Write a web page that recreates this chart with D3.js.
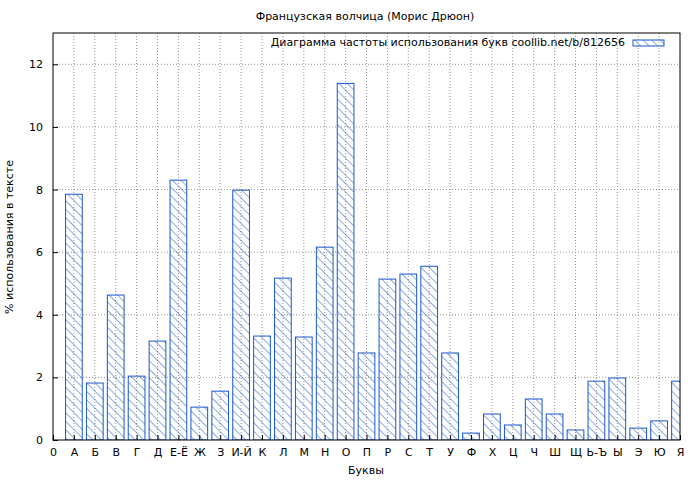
<!DOCTYPE html>
<html><head><meta charset="utf-8">
<script src="https://cdn.jsdelivr.net/npm/d3@7"></script>
<style>body{margin:0;background:#fff}text{font-family:"DejaVu Sans",sans-serif;font-size:11px}</style>
</head><body><div id="plot"></div>
<script>
const letters = ["0","А","Б","В","Г","Д","Е-Ё","Ж","З","И-Й","К","Л","М","Н","О","П","Р","С","Т","У","Ф","Х","Ц","Ч","Ш","Щ","Ь-Ъ","Ы","Э","Ю","Я"];
const values = [null,7.85,1.82,4.63,2.04,3.16,8.30,1.05,1.56,7.98,3.32,5.17,3.29,6.16,11.39,2.78,5.14,5.30,5.55,2.78,0.22,0.83,0.48,1.31,0.83,0.32,1.88,1.98,0.38,0.61,1.88];
const yTicks = [0,2,4,6,8,10,12];

const width = 700, height = 480;
const mLeft = 53, mRight = 680, mTop = 33, mBottom = 440;
const svg = d3.select("#plot").append("svg").attr("width", width).attr("height", height);

const x = d3.scaleLinear().domain([0, 30]).range([mLeft, mRight]);
const y = d3.scaleLinear().domain([0, 13]).range([mBottom, mTop]);
const color = "#1a56cc";

// hatch pattern
const pat = svg.append("defs").append("pattern").attr("id", "hatch")
    .attr("patternUnits", "userSpaceOnUse").attr("width", 6).attr("height", 6)
    .attr("patternTransform", "rotate(-45)");
pat.append("line").attr("x1", 0).attr("y1", 0).attr("x2", 0).attr("y2", 6)
    .attr("stroke", color).attr("stroke-width", 1);

// grid
svg.append("g").selectAll("line").data(yTicks.slice(1)).join("line")
    .attr("x1", mLeft).attr("x2", mRight).attr("y1", d => y(d)).attr("y2", d => y(d))
    .attr("stroke", "#999").attr("stroke-dasharray", "1,2");
svg.append("g").selectAll("line").data(d3.range(1, 30)).join("line")
    .attr("y1", mTop).attr("y2", mBottom).attr("x1", d => x(d)).attr("x2", d => x(d))
    .attr("stroke", "#999").attr("stroke-dasharray", "1,2");

// bars (clipped at the plot edge)
svg.append("clipPath").attr("id", "clip").append("rect")
    .attr("x", mLeft).attr("y", mTop).attr("width", mRight - mLeft).attr("height", mBottom - mTop);
const bw = (x(1) - x(0)) * 0.8;
svg.append("g").attr("clip-path", "url(#clip)").selectAll("rect")
    .data(values.map((v, i) => ({v, i})).filter(d => d.v != null)).join("rect")
    .attr("x", d => x(d.i) - bw / 2).attr("width", bw)
    .attr("y", d => y(d.v)).attr("height", d => y(0) - y(d.v))
    .attr("fill", "url(#hatch)").attr("stroke", color).attr("stroke-width", 1);

// frame
svg.append("rect").attr("x", mLeft).attr("y", mTop).attr("width", mRight - mLeft).attr("height", mBottom - mTop)
    .attr("fill", "none").attr("stroke", "#000");

// axes
svg.append("g").attr("transform", `translate(${mLeft},0)`)
    .call(d3.axisLeft(y).tickValues(yTicks).tickSize(-5).tickPadding(10))
    .call(g => g.select(".domain").remove());
svg.append("g").attr("transform", `translate(0,${mBottom})`)
    .call(d3.axisBottom(x).tickValues(d3.range(0, 31)).tickFormat(i => letters[i]).tickSize(-5).tickPadding(8))
    .call(g => g.select(".domain").remove());
svg.selectAll(".tick text").attr("fill", "#000").style("font-size", "11px");

// titles
svg.append("text").attr("x", 365).attr("y", 20).attr("text-anchor", "middle").text("Французская волчица (Морис Дрюон)");
svg.append("text").attr("x", 366).attr("y", 474).attr("text-anchor", "middle").text("Буквы");
svg.append("text").attr("transform", "translate(13,237) rotate(-90)").attr("text-anchor", "middle").text("% использования в тексте");

// legend
svg.append("text").attr("x", 625).attr("y", 46).attr("text-anchor", "end").text("Диаграмма частоты использования букв coollib.net/b/812656");
svg.append("rect").attr("x", 633).attr("y", 40).attr("width", 31).attr("height", 6)
    .attr("fill", "url(#hatch)").attr("stroke", color);
</script></body></html>
